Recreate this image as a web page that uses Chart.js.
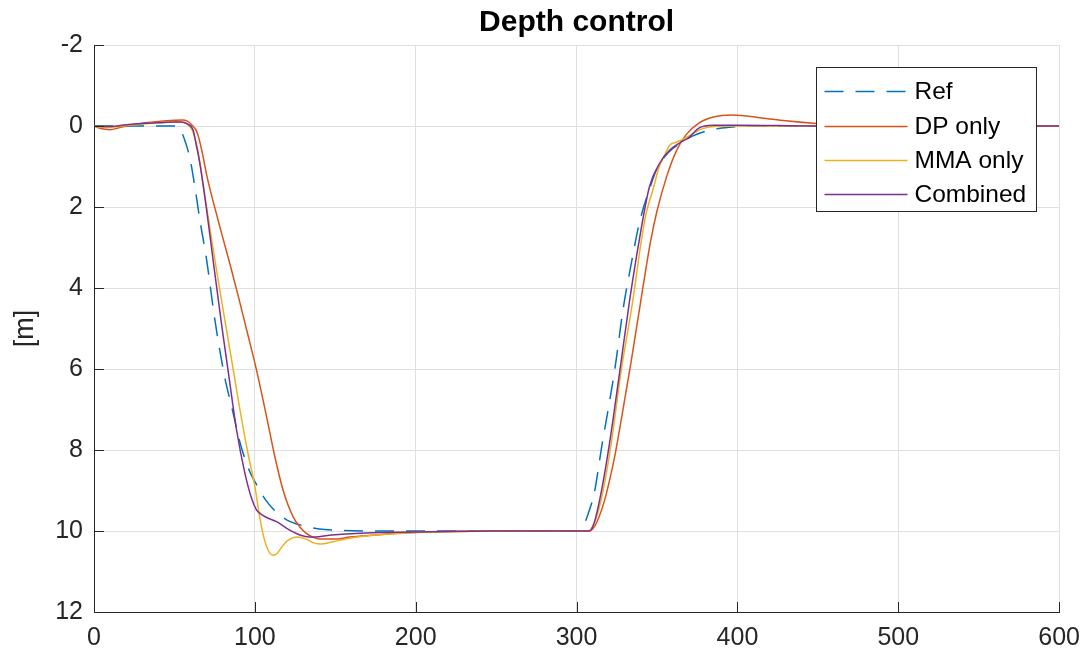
<!DOCTYPE html>
<html>
<head>
<meta charset="utf-8">
<title>Depth control</title>
<script src="https://cdn.jsdelivr.net/npm/chart.js@4.4.1/dist/chart.umd.min.js"></script>
<style>
  html, body { margin: 0; padding: 0; background: #fff; }
  #wrap { width: 1091px; height: 664px; }
</style>
</head>
<body>
<div id="wrap"><canvas id="depthChart" width="1091" height="664"></canvas></div>
<script>
// time [s] / depth [m] samples per controller
const refT = [0, 50, 53, 56, 59.6, 62.7, 65.8, 70, 75, 81, 86, 91, 97, 101, 107, 113, 120, 130, 140, 150, 180,
  302, 304, 308, 311, 315.5, 320.5, 324, 329, 334, 339, 346.6, 350, 355, 360, 365, 372, 383, 395, 410, 600];
const refDepth = [0, 0, 0.05, 0.3, 0.79, 1.5, 2.32, 3.3, 4.75, 6.15, 7.0, 7.85, 8.55, 8.85, 9.25, 9.52, 9.73, 9.87, 9.95, 9.98, 10,
  10, 9.9, 9.48, 9.07, 7.95, 6.8, 5.95, 4.5, 3.4, 2.4, 1.41, 1.05, 0.75, 0.55, 0.42, 0.25, 0.1, 0.03, 0, 0];

const dpT = [0, 5, 10, 15, 20, 30, 40, 50, 55, 58, 61, 64, 67, 70, 73, 76, 80, 85, 90, 95, 101, 107.3, 112.4, 117.6, 123.8, 128, 132, 136, 140, 151, 159, 175, 190, 220, 250,
  308, 311, 314, 317, 320.5, 324, 328, 331, 334, 337, 340, 343, 346, 350, 356, 362, 368, 376, 385, 397, 415, 430, 447, 470, 490, 600];
const dpDepth = [0, 0.07, 0.09, 0.05, 0, -0.07, -0.11, -0.14, -0.15, -0.12, -0.02, 0.15, 0.6, 1.2, 1.7, 2.15, 2.75, 3.48, 4.25, 5.05, 6.02, 7.18, 8.16, 9.0, 9.65, 9.9, 10.06, 10.15, 10.2, 10.2, 10.15, 10.1, 10.05, 10.01, 10,
  10, 9.9, 9.65, 9.3, 8.75, 8.1, 7.2, 6.5, 5.8, 5.05, 4.3, 3.55, 2.85, 2.1, 1.25, 0.62, 0.22, -0.07, -0.22, -0.27, -0.2, -0.13, -0.07, -0.02, 0, 0];

const mmaT = [0, 5, 10, 20, 30, 40, 50, 54, 58, 61, 64, 66, 70, 73.5, 78, 82, 86.5, 90.7, 95.7, 100, 103, 105.5, 108, 111, 114, 117, 121, 126, 132, 137, 141, 148, 159, 175, 190, 220, 250,
  307, 309, 312, 316, 321.5, 327.5, 335, 340, 343, 348, 351, 355, 358, 362, 366, 372, 378, 385, 400, 600];
const mmaDepth = [0, 0.03, 0.03, -0.01, -0.05, -0.08, -0.1, -0.1, -0.05, 0.1, 0.5, 0.95, 2.0, 2.9, 4.0, 4.95, 6.0, 7.0, 8.08, 8.9, 9.65, 10.15, 10.45, 10.6, 10.55, 10.38, 10.22, 10.15, 10.2, 10.3, 10.32, 10.27, 10.18, 10.1, 10.06, 10.02, 10,
  10, 9.95, 9.7, 9.1, 7.85, 6.1, 4.3, 2.9, 2.2, 1.5, 1.05, 0.7, 0.47, 0.4, 0.33, 0.2, 0.07, 0.01, 0, 0];

const combT = [0, 10, 20, 30, 40, 50, 54, 58, 61.6, 63.5, 65.8, 70, 74, 79.3, 83.3, 88.6, 93.8, 98, 101, 103, 107, 113.5, 121.7, 128, 134, 140, 148, 170, 190, 220, 250,
  308, 310, 312, 316, 320.5, 326.7, 333, 339, 345.3, 351.6, 357.8, 364, 370, 376, 385, 400, 450, 600];
const combDepth = [0, 0.01, -0.03, -0.06, -0.08, -0.1, -0.1, -0.05, 0.1, 0.45, 0.92, 2.07, 3.3, 4.9, 6.02, 7.5, 8.57, 9.2, 9.48, 9.56, 9.66, 9.77, 9.98, 10.1, 10.15, 10.14, 10.1, 10.05, 10.03, 10.01, 10,
  10, 9.9, 9.65, 8.9, 7.83, 6.1, 4.3, 2.81, 1.5, 0.92, 0.6, 0.42, 0.28, 0.05, -0.02, -0.02, 0, 0];

const seriesNames = ['Ref', 'DP only', 'MMA only', 'Combined'];
const seriesColors = ['#0072BD', '#D95319', '#EDB120', '#7E2F8E'];
const xTicks = [0, 100, 200, 300, 400, 500, 600];
const yTicks = [-2, 0, 2, 4, 6, 8, 10, 12];

const FONT = '"Liberation Sans", Arial, Helvetica, sans-serif';
const AXIS_COLOR = '#262626';

function toPoints(t, d) {
  return t.map((x, i) => ({ x: x, y: d[i] }));
}

// matlab-ish inward ticks, title over the axes, boxed legend in the upper right
const decorPlugin = {
  id: 'decor',
  afterDatasetsDraw(chart) {
    const ctx = chart.ctx;
    const area = chart.chartArea;
    const xs = chart.scales.x;
    const ys = chart.scales.y;

    ctx.save();
    ctx.strokeStyle = AXIS_COLOR;
    ctx.lineWidth = 1;
    ctx.beginPath();
    yTicks.forEach(v => {
      const py = Math.round(ys.getPixelForValue(v)) + 0.5;
      ctx.moveTo(area.left, py);
      ctx.lineTo(area.left + 10, py);
    });
    xTicks.forEach(v => {
      const px = Math.round(xs.getPixelForValue(v)) + 0.5;
      ctx.moveTo(px, area.bottom);
      ctx.lineTo(px, area.bottom - 10);
    });
    ctx.stroke();

    // title
    ctx.fillStyle = '#000';
    ctx.font = 'bold 30px ' + FONT;
    ctx.textAlign = 'center';
    ctx.textBaseline = 'alphabetic';
    ctx.fillText('Depth control', (area.left + area.right) / 2, area.top - 14);

    // legend
    const boxW = 220, boxH = 144;
    const bx = Math.round(area.right - 23 - boxW) + 0.5;
    const by = Math.round(area.top + 22) + 0.5;
    ctx.fillStyle = '#fff';
    ctx.fillRect(bx, by, boxW, boxH);
    ctx.strokeStyle = AXIS_COLOR;
    ctx.lineWidth = 1;
    ctx.strokeRect(bx, by, boxW, boxH);

    const rows = [24, 59, 93, 127];
    ctx.font = '24.5px ' + FONT;
    ctx.textAlign = 'left';
    ctx.textBaseline = 'middle';
    chart.data.datasets.forEach((ds, i) => {
      const ry = by + rows[i];
      ctx.beginPath();
      ctx.strokeStyle = ds.borderColor;
      ctx.lineWidth = 1.5;
      ctx.setLineDash(ds.borderDash || []);
      ctx.moveTo(bx + 8, ry);
      ctx.lineTo(bx + 91, ry);
      ctx.stroke();
      ctx.setLineDash([]);
      ctx.fillStyle = '#000';
      ctx.fillText(ds.label, bx + 98, ry + 1);
    });
    ctx.restore();
  }
};

const ctx = document.getElementById('depthChart').getContext('2d');
new Chart(ctx, {
  type: 'line',
  data: {
    datasets: [
      {
        label: seriesNames[0],
        data: toPoints(refT, refDepth),
        borderColor: seriesColors[0],
        borderDash: [19, 12],
        order: 3
      },
      {
        label: seriesNames[1],
        data: toPoints(dpT, dpDepth),
        borderColor: seriesColors[1],
        order: 2
      },
      {
        label: seriesNames[2],
        data: toPoints(mmaT, mmaDepth),
        borderColor: seriesColors[2],
        order: 1
      },
      {
        label: seriesNames[3],
        data: toPoints(combT, combDepth),
        borderColor: seriesColors[3],
        order: 0
      }
    ]
  },
  options: {
    responsive: false,
    animation: false,
    devicePixelRatio: 1,
    layout: { padding: { left: 0, right: 31, top: 45, bottom: 0 } },
    elements: {
      line: { borderWidth: 1.5, fill: false, cubicInterpolationMode: 'monotone' },
      point: { radius: 0, hoverRadius: 0 }
    },
    plugins: {
      legend: { display: false },
      title: { display: false },
      tooltip: { enabled: false }
    },
    scales: {
      x: {
        type: 'linear',
        min: 0,
        max: 600,
        afterFit(scale) { scale.height = 52; },
        afterBuildTicks(scale) { scale.ticks = xTicks.map(v => ({ value: v })); },
        ticks: {
          font: { family: FONT, size: 25 },
          color: AXIS_COLOR,
          padding: 11,
          maxRotation: 0
        },
        grid: { color: '#dfdfdf', lineWidth: 1, drawTicks: false },
        border: { display: true, color: AXIS_COLOR, width: 1 }
      },
      y: {
        type: 'linear',
        reverse: true,
        min: -2,
        max: 12,
        afterFit(scale) { scale.width = 94; },
        afterBuildTicks(scale) { scale.ticks = yTicks.map(v => ({ value: v })); },
        ticks: {
          font: { family: FONT, size: 25 },
          color: AXIS_COLOR,
          padding: 11
        },
        grid: { color: '#dfdfdf', lineWidth: 1, drawTicks: false },
        border: { display: true, color: AXIS_COLOR, width: 1 },
        title: {
          display: true,
          text: '[m]',
          font: { family: FONT, size: 27 },
          color: AXIS_COLOR,
          padding: { top: 9, bottom: 0 }
        }
      }
    }
  },
  plugins: [decorPlugin]
});
</script>
</body>
</html>
